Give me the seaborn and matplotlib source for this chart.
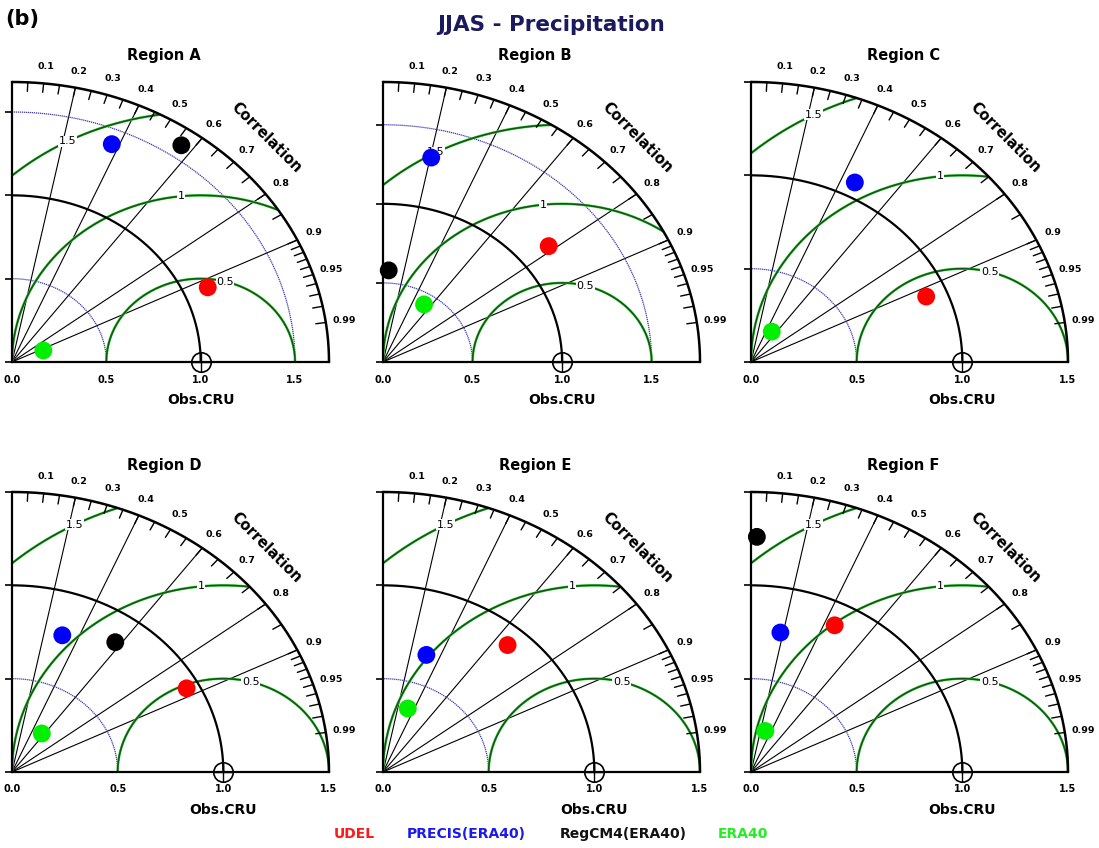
import numpy as np
import pandas as pd
import seaborn as sns
import matplotlib
matplotlib.use("Agg")
from matplotlib import pyplot as plt

regions = ["Region A", "Region B", "Region C", "Region D", "Region E", "Region F"]
models = ["UDEL", "PRECIS(ERA40)", "RegCM4(ERA40)", "ERA40"]
model_colors = ["#ff0000", "#0000ff", "#000000", "#00f000"]
legend_colors = ["#ff1a1a", "#1a1aee", "#111111", "#22ee22"]

# normalised std (vs Obs.CRU) and correlation, one value per region A..F
udel_std = [1.13, 1.18, 0.90, 0.94, 0.90, 0.88]
udel_corr = [0.918, 0.784, 0.921, 0.879, 0.655, 0.450]
precis_std = [1.41, 1.32, 1.08, 0.77, 0.66, 0.76]
precis_corr = [0.375, 0.204, 0.455, 0.309, 0.311, 0.183]
regcm_std = [1.58, 0.58, np.nan, 0.85, np.nan, 1.26]
regcm_corr = [0.568, 0.055, np.nan, 0.575, np.nan, 0.022]
era_std = [0.18, 0.43, 0.19, 0.25, 0.36, 0.23]
era_corr = [0.923, 0.533, 0.517, 0.564, 0.326, 0.295]

max_std = [1.68, 1.77, 1.5, 1.5, 1.5, 1.5]
xtick_vals = [0.0, 0.5, 1.0, 1.5]
corr_ticks = [0.1, 0.2, 0.3, 0.4, 0.5, 0.6, 0.7, 0.8, 0.9, 0.95, 0.99]
corr_lines = [0.2, 0.4, 0.6, 0.8, 0.9]
rms_levels = [0.5, 1.0, 1.5]
rms_text = ["0.5", "1", "1.5"]
rms_label_deg = [75, 96, 118]
std_arcs = [0.5, 1.5]

rows = []
for i, reg in enumerate(regions):
    for m, s, c in zip(models, [udel_std, precis_std, regcm_std, era_std],
                       [udel_corr, precis_corr, regcm_corr, era_corr]):
        rows.append({"region": reg, "model": m, "std": s[i], "corr": c[i]})
df = pd.DataFrame(rows).dropna()
df["x"] = df["std"] * df["corr"]
df["y"] = df["std"] * np.sqrt(1 - df["corr"] ** 2)

sns.set_style("white")
plt.rcParams["font.family"] = ["DejaVu Sans"]
plt.rcParams["text.color"] = "black"
plt.rcParams["axes.labelcolor"] = "black"
plt.rcParams["xtick.color"] = "black"
plt.rcParams["ytick.color"] = "black"

W, H = 1099, 848
fig = plt.figure(figsize=(W / 100, H / 100), dpi=100)
lefts = [12, 383, 751]
origins_y = [362, 772]
pw, ph = 317, 280

dkgreen = "#0b5a10"
ltgreen = "#5ad85a"


def draw_panel(ax, name, R, sub):
    th = np.linspace(0, np.pi / 2, 300)
    # outer boundary
    ax.plot(R * np.cos(th), R * np.sin(th), color="k", lw=1.8, clip_on=False, zorder=4)

    # correlation ticks on outer arc
    minor = list(np.arange(0.05, 0.9, 0.05)) + list(np.arange(0.9, 0.995, 0.01))
    for c in minor:
        a = np.arccos(c)
        ax.plot([R * np.cos(a), 0.968 * R * np.cos(a)], [R * np.sin(a), 0.968 * R * np.sin(a)],
                color="k", lw=1.0, clip_on=False, zorder=4)
    for c in corr_ticks:
        a = np.arccos(c)
        ax.text(1.06 * R * np.cos(a), 1.06 * R * np.sin(a), f"{c:g}", fontsize=6.8,
                fontweight="bold", ha="center", va="center")

    # radial correlation lines
    for c in corr_lines:
        a = np.arccos(c)
        ax.plot([0, R * np.cos(a)], [0, R * np.sin(a)], color="k", lw=0.8, zorder=2)

    # std arcs
    ax.plot(np.cos(th), np.sin(th), color="k", lw=1.6, zorder=3)
    for r in std_arcs:
        if r < R - 0.01:
            ax.plot(r * np.cos(th), r * np.sin(th), color="#3a3ab0", lw=0.9,
                    ls=(0, (1, 0.6)), zorder=2)

    # centred RMS difference arcs around the reference
    t = np.linspace(0, np.pi, 500)
    for lev, txt, deg in zip(rms_levels, rms_text, rms_label_deg):
        x = 1 + lev * np.cos(t)
        y = lev * np.sin(t)
        keep = (x >= 0) & (np.hypot(x, y) <= R)
        x = np.where(keep, x, np.nan)
        y = np.where(keep, y, np.nan)
        ax.plot(x, y, color=ltgreen, lw=1.9, zorder=2)
        ax.plot(x, y, color=dkgreen, lw=1.2, zorder=2)
        a = np.deg2rad(deg)
        ax.text(1 + lev * np.cos(a), lev * np.sin(a), txt, fontsize=8, ha="center", va="center",
                zorder=3, bbox=dict(boxstyle="square,pad=0.05", fc="white", ec="none"))

    # reference point
    ax.plot(1, 0, "o", ms=14, mfc="none", mec="k", mew=1.2, clip_on=False, zorder=6)
    ax.plot(1, 0, "+", ms=14, mec="k", mew=1.0, clip_on=False, zorder=6)

    sns.scatterplot(data=sub, x="x", y="y", hue="model", hue_order=models, palette=model_colors,
                    s=165, linewidth=0, legend=False, ax=ax, clip_on=False, zorder=7)

    ax.text(1.135 * R * np.cos(np.deg2rad(45)), 1.135 * R * np.sin(np.deg2rad(45)), "Correlation",
            rotation=-45, rotation_mode="anchor", ha="center", va="center",
            fontsize=10.5, fontweight="bold")

    ax.set_xlim(0, R)
    ax.set_ylim(0, R)
    for s in ["top", "right"]:
        ax.spines[s].set_visible(False)
    for s in ["left", "bottom"]:
        ax.spines[s].set_linewidth(1.6)
        ax.spines[s].set_color("k")
    ax.set_xticks(xtick_vals)
    ax.set_xticklabels([f"{v:.1f}" for v in xtick_vals], fontsize=7, fontweight="bold")
    ax.tick_params(axis="x", length=0, pad=9)
    ax.set_yticks([0, 0.5, 1.0, 1.5])
    ax.set_yticklabels([])
    ax.tick_params(axis="y", direction="out", length=5, width=1.2, left=True)
    ax.set_ylabel("")
    ax.set_xlabel("Obs.CRU", fontsize=10, fontweight="bold")
    ax.xaxis.set_label_coords(1.0 / R, -31 / ph)
    ax.set_title(name, x=0.48, pad=16, fontsize=10.5, fontweight="bold")
    ax.patch.set_alpha(0)


for i, reg in enumerate(regions):
    row, col = divmod(i, 3)
    rect = [lefts[col] / W, (H - origins_y[row]) / H, pw / W, ph / H]
    ax = fig.add_axes(rect)
    draw_panel(ax, reg, max_std[i], df[df["region"] == reg])

fig.text(551 / W, 1 - 25 / H, "JJAS - Precipitation", color="#1c1a5e", fontsize=15.5,
         fontweight="bold", ha="center", va="center")
fig.text(5 / W, 1 - 19 / H, "(b)", fontsize=15, fontweight="bold", ha="left", va="center")

legend_x = [354, 466, 623, 743]
for name, col, xp in zip(models, legend_colors, legend_x):
    fig.text(xp / W, 1 - 834 / H, name, color=col, fontsize=10, fontweight="bold",
             ha="center", va="center")

fig.savefig("out.png", dpi=100, facecolor="white")
